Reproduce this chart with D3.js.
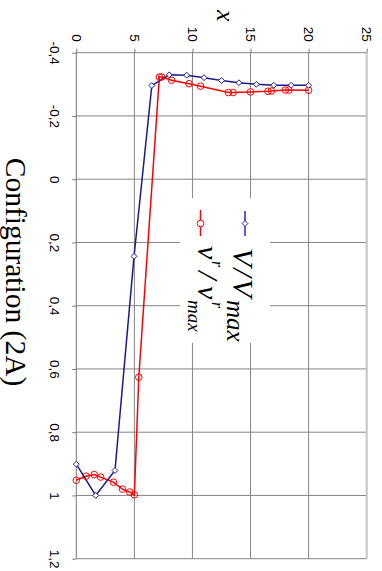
<!DOCTYPE html>
<html><head><meta charset="utf-8">
<script src="https://cdn.jsdelivr.net/npm/d3@7"></script>
<style>
html,body{margin:0;padding:0;background:#fff;}
svg{display:block;}
</style></head>
<body>
<script>
// ---- data ----
const xTicks = [0, 5, 10, 15, 20, 25];
const yTicks = [-0.4, -0.2, 0, 0.2, 0.4, 0.6, 0.8, 1.0, 1.2];
const yTickLabels = ["-0,4", "-0,2", "0", "0,2", "0,4", "0,6", "0,8", "1", "1,2"];

const blueX = [0, 1.67, 3.33, 4.97, 6.5, 8.0, 9.5, 11.0, 12.5, 14.0, 15.5, 17.0, 18.5, 20.0];
const blueY = [0.901, 1.0, 0.921, 0.244, -0.296, -0.33, -0.329, -0.321, -0.312, -0.305, -0.300, -0.297, -0.297, -0.297];

const redX = [0, 0.84, 1.55, 2.1, 3.2, 3.97, 4.6, 5.0, 5.38, 7.15, 7.35, 8.2, 9.7, 10.7, 13.1, 13.5, 15.0, 16.5, 16.8, 18.0, 18.3, 20.0];
const redY = [0.952, 0.939, 0.934, 0.942, 0.958, 0.98, 0.989, 0.998, 0.626, -0.323, -0.323, -0.313, -0.302, -0.294, -0.274, -0.274, -0.276, -0.278, -0.279, -0.282, -0.282, -0.281];

const titleText = "Configuration (2A)";
const axisLabel = "x";

// ---- drawing ----
const W = 382, H = 571;
const svg = d3.select("body").append("svg").attr("width", W).attr("height", H);

const x = d3.scaleLinear().domain([0, 25]).range([76.3, 366.7]);
const y = d3.scaleLinear().domain([-0.4, 1.2]).range([52.7, 558.7]);

const gridCol = "#858585";
const blue = "#1a1a8e", red = "#ff0000";

// gridlines
const grid = svg.append("g");
grid.selectAll("line.v").data(xTicks.slice(1, -1)).join("line")
  .attr("x1", d => x(d)).attr("x2", d => x(d))
  .attr("y1", y(-0.4)).attr("y2", y(1.2))
  .attr("stroke", gridCol).attr("stroke-width", 1);
grid.selectAll("line.h").data(yTicks).join("line")
  .attr("x1", x(0)).attr("x2", x(25))
  .attr("y1", d => y(d)).attr("y2", d => y(d))
  .attr("stroke", gridCol).attr("stroke-width", 1);
// right border (lighter, thicker)
svg.append("line").attr("x1", x(25)).attr("x2", x(25))
  .attr("y1", y(-0.4)).attr("y2", y(1.2))
  .attr("stroke", "#c4c4c4").attr("stroke-width", 2);
// left axis line
svg.append("line").attr("x1", x(0)).attr("x2", x(0))
  .attr("y1", y(-0.4)).attr("y2", y(1.2))
  .attr("stroke", "#777").attr("stroke-width", 1);

// axes
const xAxis = svg.append("g").attr("transform", `translate(0,${y(-0.4)})`)
  .call(d3.axisTop(x).tickValues(xTicks).tickSize(4).tickSizeOuter(0).tickFormat(d3.format("d")));
xAxis.select(".domain").remove();
xAxis.selectAll(".tick line").attr("stroke", "#777");
xAxis.selectAll(".tick text")
  .attr("transform", "rotate(90)")
  .attr("x", -11).attr("y", 0).attr("dy", "0.35em")
  .attr("text-anchor", "end")
  .style("font-family", "'Liberation Sans', Arial, sans-serif")
  .style("font-size", "13.5px").attr("fill", "#000");

const yAxis = svg.append("g").attr("transform", `translate(${x(0)},0)`)
  .call(d3.axisLeft(y).tickValues(yTicks).tickSize(4).tickSizeOuter(0)
    .tickFormat((d, i) => yTickLabels[i]));
yAxis.select(".domain").remove();
yAxis.selectAll(".tick line").attr("stroke", "#777");
yAxis.selectAll(".tick text")
  .attr("transform", "rotate(90)")
  .attr("x", 0).attr("y", 21.3).attr("dy", "0.35em")
  .attr("text-anchor", "middle")
  .style("font-family", "'Liberation Sans', Arial, sans-serif")
  .style("font-size", "13.5px").attr("fill", "#000");

// series
const line = d3.line().x(d => x(d[0])).y(d => y(d[1]));
const blueData = blueX.map((v, i) => [v, blueY[i]]);
const redData = redX.map((v, i) => [v, redY[i]]);

svg.append("path").datum(redData).attr("d", line)
  .attr("fill", "none").attr("stroke", red).attr("stroke-width", 1.5);
svg.append("path").datum(blueData).attr("d", line)
  .attr("fill", "none").attr("stroke", blue).attr("stroke-width", 1.5);

svg.append("g").selectAll("circle").data(redData).join("circle")
  .attr("cx", d => x(d[0])).attr("cy", d => y(d[1])).attr("r", 3.3)
  .attr("fill", "none").attr("stroke", red).attr("stroke-width", 1);
const diamond = d3.symbol().type(d3.symbolDiamond2).size(22);
svg.append("g").selectAll("path").data(blueData).join("path")
  .attr("transform", d => `translate(${x(d[0])},${y(d[1])})`)
  .attr("d", diamond)
  .attr("fill", "#fff").attr("stroke", blue).attr("stroke-width", 1);

// legend
const leg = svg.append("g");
leg.append("rect").attr("x", 180).attr("y", 198).attr("width", 90).attr("height", 145)
  .attr("fill", "#fff");
// blue entry
leg.append("line").attr("x1", 245).attr("x2", 245).attr("y1", 211).attr("y2", 236)
  .attr("stroke", "#2a2ac0").attr("stroke-width", 1.5);
leg.append("path").attr("transform", "translate(245,223.5)").attr("d", diamond)
  .attr("fill", "#fff").attr("stroke", "#2a2ac0").attr("stroke-width", 1);
// red entry
leg.append("line").attr("x1", 200.5).attr("x2", 200.5).attr("y1", 210).attr("y2", 236)
  .attr("stroke", red).attr("stroke-width", 1.5);
leg.append("circle").attr("cx", 200.5).attr("cy", 223.5).attr("r", 3.3)
  .attr("fill", "#fff").attr("stroke", red).attr("stroke-width", 1);

const serif = "'Liberation Serif', 'Times New Roman', serif";
// rotated frame: tspan x = screen y, tspan y = -screen x
const bt = leg.append("text").attr("transform", "rotate(90)")
  .style("font-family", serif).style("font-style", "italic").attr("fill", "#000");
bt.append("tspan").attr("x", 248).attr("y", -233).style("font-size", "30px")
  .style("letter-spacing", "2px").text("V/V");
bt.append("tspan").attr("x", 300).attr("y", -227).style("font-size", "25px").text("max");

const rt = leg.append("text").attr("transform", "rotate(90)")
  .style("font-family", serif).style("font-style", "italic").attr("fill", "#000");
rt.append("tspan").attr("x", 246).attr("y", -198).style("font-size", "30px").text("v");
rt.append("tspan").attr("x", 261).attr("y", -212).style("font-size", "16px").text("r");
rt.append("tspan").attr("x", 271).attr("y", -198).style("font-size", "30px").text("/");
rt.append("tspan").attr("x", 286).attr("y", -198).style("font-size", "30px").text("v");
rt.append("tspan").attr("x", 302).attr("y", -212).style("font-size", "16px").text("r");
rt.append("tspan").attr("x", 300).attr("y", -188).style("font-size", "19px").text("max");

// axis label "x"
svg.append("text").attr("transform", "translate(216.7,15.8) rotate(90)")
  .attr("text-anchor", "middle")
  .style("font-family", serif).style("font-style", "italic").style("font-size", "26px")
  .text(axisLabel);

// title
svg.append("text").attr("transform", "translate(6,272) rotate(90)")
  .attr("text-anchor", "middle")
  .style("font-family", serif).style("font-size", "29.5px")
  .text(titleText);
</script>
</body></html>
